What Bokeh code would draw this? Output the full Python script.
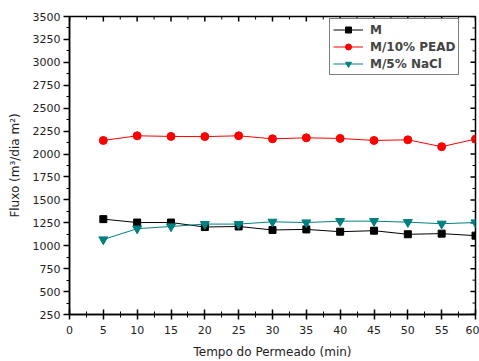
import math
from bokeh.plotting import figure
from bokeh.models import Range1d, FixedTicker, Legend, LegendItem
from bokeh.embed import file_html
from bokeh.resources import INLINE

time_min = [5, 10, 15, 20, 25, 30, 35, 40, 45, 50, 55, 60]
flux_m = [1290, 1253, 1253, 1204, 1210, 1172, 1178, 1153, 1164, 1125, 1132, 1110]
flux_pead = [2148, 2199, 2192, 2190, 2199, 2166, 2177, 2170, 2148, 2155, 2080, 2163]
flux_nacl = [1068, 1186, 1210, 1236, 1236, 1261, 1253, 1268, 1268, 1257, 1240, 1253]

x_ticks = [0, 5, 10, 15, 20, 25, 30, 35, 40, 45, 50, 55, 60]
y_ticks = [250, 500, 750, 1000, 1250, 1500, 1750, 2000, 2250, 2500, 2750, 3000, 3250, 3500]
x_minor = [t + 2.5 for t in x_ticks[:-1]]
y_minor = [t + 125 for t in y_ticks[:-1]]

FONT = "DejaVu Sans"
X0, X1 = 0, 60
Y0, Y1 = 250, 3500

p = figure(width=479, height=361, output_backend="svg", toolbar_location=None,
           x_range=Range1d(X0, X1), y_range=Range1d(Y0, Y1),
           min_border_left=69, min_border_right=4, min_border_top=16, min_border_bottom=45)
p.outline_line_color = "black"
p.outline_line_width = 1.5
p.xgrid.visible = False
p.ygrid.visible = False
p.background_fill_color = "white"

for ax in p.xaxis:
    ax.ticker = FixedTicker(ticks=x_ticks, minor_ticks=x_minor)
    ax.major_tick_in = 5
    ax.major_tick_out = 5
    ax.minor_tick_in = 3
    ax.minor_tick_out = 3
    ax.axis_label = "Tempo do Permeado (min)"
    ax.major_label_standoff = 6
    ax.axis_label_standoff = 8
for ax in p.yaxis:
    ax.ticker = FixedTicker(ticks=y_ticks, minor_ticks=y_minor)
    ax.major_tick_in = 0
    ax.major_tick_out = 6
    ax.minor_tick_in = 0
    ax.minor_tick_out = 3
    ax.axis_label = "Fluxo (m³/dia m²)"
    ax.major_label_standoff = 3
    ax.axis_label_standoff = 8

for ax in list(p.xaxis) + list(p.yaxis):
    ax.axis_line_width = 1.5
    ax.major_tick_line_width = 1.5
    ax.minor_tick_line_width = 1
    ax.axis_line_color = "black"
    ax.major_tick_line_color = "black"
    ax.minor_tick_line_color = "black"
    ax.major_label_text_font = FONT
    ax.major_label_text_font_size = "11px"
    ax.major_label_text_color = "#222222"
    ax.axis_label_text_font = FONT
    ax.axis_label_text_font_size = "12px"
    ax.axis_label_text_font_style = "normal"
    ax.axis_label_text_color = "#222222"

# inward ticks on the top and right frame edges
p.ray(x=x_ticks, y=Y1, length=5, length_units="screen", angle=-math.pi / 2,
      line_color="black", line_width=1.5)
p.ray(x=x_minor, y=Y1, length=3, length_units="screen", angle=-math.pi / 2,
      line_color="black", line_width=1)
p.ray(x=X1, y=y_ticks, length=5, length_units="screen", angle=math.pi,
      line_color="black", line_width=1.5)
p.ray(x=X1, y=y_minor, length=3, length_units="screen", angle=math.pi,
      line_color="black", line_width=1)

l1 = p.line(time_min, flux_m, line_color="black", line_width=1)
m1 = p.scatter(time_min, flux_m, marker="square", size=7, fill_color="black", line_color="black")
l2 = p.line(time_min, flux_pead, line_color="#FF0000", line_width=1)
m2 = p.scatter(time_min, flux_pead, marker="circle", size=8, fill_color="#FF0000", line_color="#FF0000")
l3 = p.line(time_min, flux_nacl, line_color="#008080", line_width=1)
m3 = p.scatter(time_min, flux_nacl, marker="inverted_triangle", size=9, fill_color="#008080", line_color="#008080")

legend = Legend(items=[
    LegendItem(label="M", renderers=[l1, m1]),
    LegendItem(label="M/10% PEAD", renderers=[l2, m2]),
    LegendItem(label="M/5% NaCl", renderers=[l3, m3]),
], location=(260, 239))
legend.label_text_font = FONT
legend.label_text_font_size = "12px"
legend.label_text_font_style = "bold"
legend.border_line_color = "black"
legend.border_line_width = 1.5
legend.glyph_width = 30
legend.glyph_height = 15
legend.label_height = 15
legend.label_width = 0
legend.spacing = 2
legend.padding = 3
legend.margin = 0
legend.label_standoff = 7
p.add_layout(legend)

open("out.html", "w").write(file_html(p, INLINE))
